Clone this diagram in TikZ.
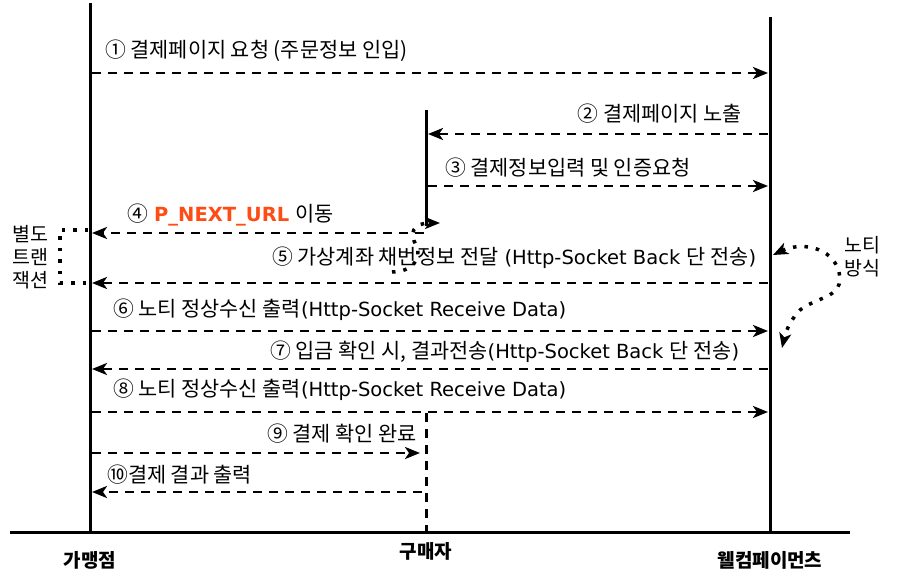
\documentclass[tikz,border=0pt]{standalone}
\usepackage{fontspec}
\setmainfont{DejaVu Sans}
\newfontfamily\kr{Noto Sans CJK KR}
\usetikzlibrary{arrows.meta}
\definecolor{nexturl}{RGB}{255,75,20}
\newcommand\K[1]{{\kr\fontsize{20.8}{24}\selectfont #1}}
\begin{document}
\begin{tikzpicture}[x=1pt,y=-1pt,
  life/.style={line width=3pt},
  tipA/.tip={Stealth[length=15pt,width=12pt,inset=4pt]},
  msg/.style={line width=2.8pt, dash pattern=on 9pt off 7pt, -tipA},
  dots/.style={line width=3.5pt, dash pattern=on 3.5pt off 8pt},
  lbl/.style={inner sep=0pt, font=\fontsize{19.5}{23}\selectfont},
  side/.style={inner sep=0pt, font=\kr\fontsize{19.5}{23}\selectfont},
  actor/.style={inner sep=0pt, font=\kr\bfseries\fontsize{19}{22}\selectfont}]
\useasboundingbox (0,0) rectangle (899,577);
% lifelines
\coordinate (Atop) at (90,3);   \coordinate (Abot) at (90,532);
\coordinate (Btop) at (426,110); \coordinate (Bmid) at (426,226);
\coordinate (Bdash) at (426,413); \coordinate (Bbot) at (426,532);
\coordinate (Ctop) at (770,17);  \coordinate (Cbot) at (770,532);
\coordinate (Lend) at (10,532);  \coordinate (Rend) at (850,532);
\draw[life] (Atop) -- (Abot);
\draw[life] (Ctop) -- (Cbot);
\draw[life] (Btop) -- (Bmid);
\draw[life, dash pattern=on 9pt off 7pt] (Bdash) -- (Bbot);
\draw[life] (Lend) -- (Rend);
% message end points
\coordinate (m1a) at (92,73);   \coordinate (m1b) at (768,73);
\coordinate (m2a) at (768,134); \coordinate (m2b) at (428,134);
\coordinate (m3a) at (428,186); \coordinate (m3b) at (768,186);
\coordinate (m4a) at (424,233); \coordinate (m4b) at (92,233);
\coordinate (m5a) at (768,283); \coordinate (m5b) at (92,283);
\coordinate (m6a) at (92,331);  \coordinate (m6b) at (768,331);
\coordinate (m7a) at (768,369); \coordinate (m7b) at (92,369);
\coordinate (m8a) at (92,412);  \coordinate (m8b) at (768,412);
\coordinate (m9a) at (92,453);  \coordinate (m9b) at (420,453);
\coordinate (m10a) at (422,492); \coordinate (m10b) at (92,492);
\foreach \m in {1,...,10} \draw[msg] (m\m a) -- (m\m b);
% labels
\node[lbl, anchor=base west] (l1) at (105,58) {\K{① 결제페이지 요청 (주문정보 인입)}};
\node[lbl, anchor=base east] (l2) at (742,122) {\K{② 결제페이지 노출}};
\node[lbl, anchor=base west] (l3) at (445,176) {\K{③ 결제정보입력 및 인증요청}};
\node[lbl, anchor=base west] (l4) at (127,222) {\K{④} \textcolor{nexturl}{\bfseries P\_NEXT\_URL} \K{이동}};
\node[lbl, anchor=base west] (l5) at (272,265) {\K{⑤ 가상계좌 채번정보 전달} (Http-Socket Back \K{단 전송})};
\node[lbl, anchor=base west] (l6) at (113,316) {\K{⑥ 노티 정상수신 출력}(Http-Socket Receive Data)};
\node[lbl, anchor=base west] (l7) at (270,358) {\K{⑦ 입금 확인 시, 결과전송}(Http-Socket Back \K{단 전송})};
\node[lbl, anchor=base west] (l8) at (113,396) {\K{⑧ 노티 정상수신 출력}(Http-Socket Receive Data)};
\node[lbl, anchor=base west] (l9) at (267,441) {\K{⑨ 결제 확인 완료}};
\node[lbl, anchor=base west] (l10) at (107,482) {\K{⑩결제 결과 출력}};
% separate transaction bracket
\coordinate (br1) at (88,230); \coordinate (br2) at (60,230);
\coordinate (br3) at (60,283); \coordinate (br4) at (88,283);
\draw[dots] (br1) -- (br2) -- (br3) -- (br4);
\node[side] (s1) at (30,234) {별도};
\node[side] (s2) at (30,257) {트랜};
\node[side] (s3) at (30,280) {잭션};
% dotted curve near buyer
\coordinate (c1) at (392,272); \coordinate (c2) at (416,245); \coordinate (c3) at (440,223);
\draw[dots, -tipA] (c1) .. controls (412,272) and (423,258) .. (c2)
  .. controls (409,233) and (413,223) .. (c3);
% noti curve
\coordinate (n1) at (773,255); \coordinate (n2) at (839,272); \coordinate (n3) at (782,348);
\draw[dots, tipA-tipA] (n1) .. controls (800,242) and (832,246) .. (n2)
  .. controls (845,298) and (818,296) .. (800,310) .. controls (792,318) and (786,330) .. (n3);
\node[side] (t1) at (862,245) {노티};
\node[side] (t2) at (862,268) {방식};
% actors
\node[actor] (A) at (90,560) {가맹점};
\node[actor] (B) at (426,551) {구매자};
\node[actor] (C) at (770,560) {웰컴페이먼츠};
\end{tikzpicture}
\end{document}
